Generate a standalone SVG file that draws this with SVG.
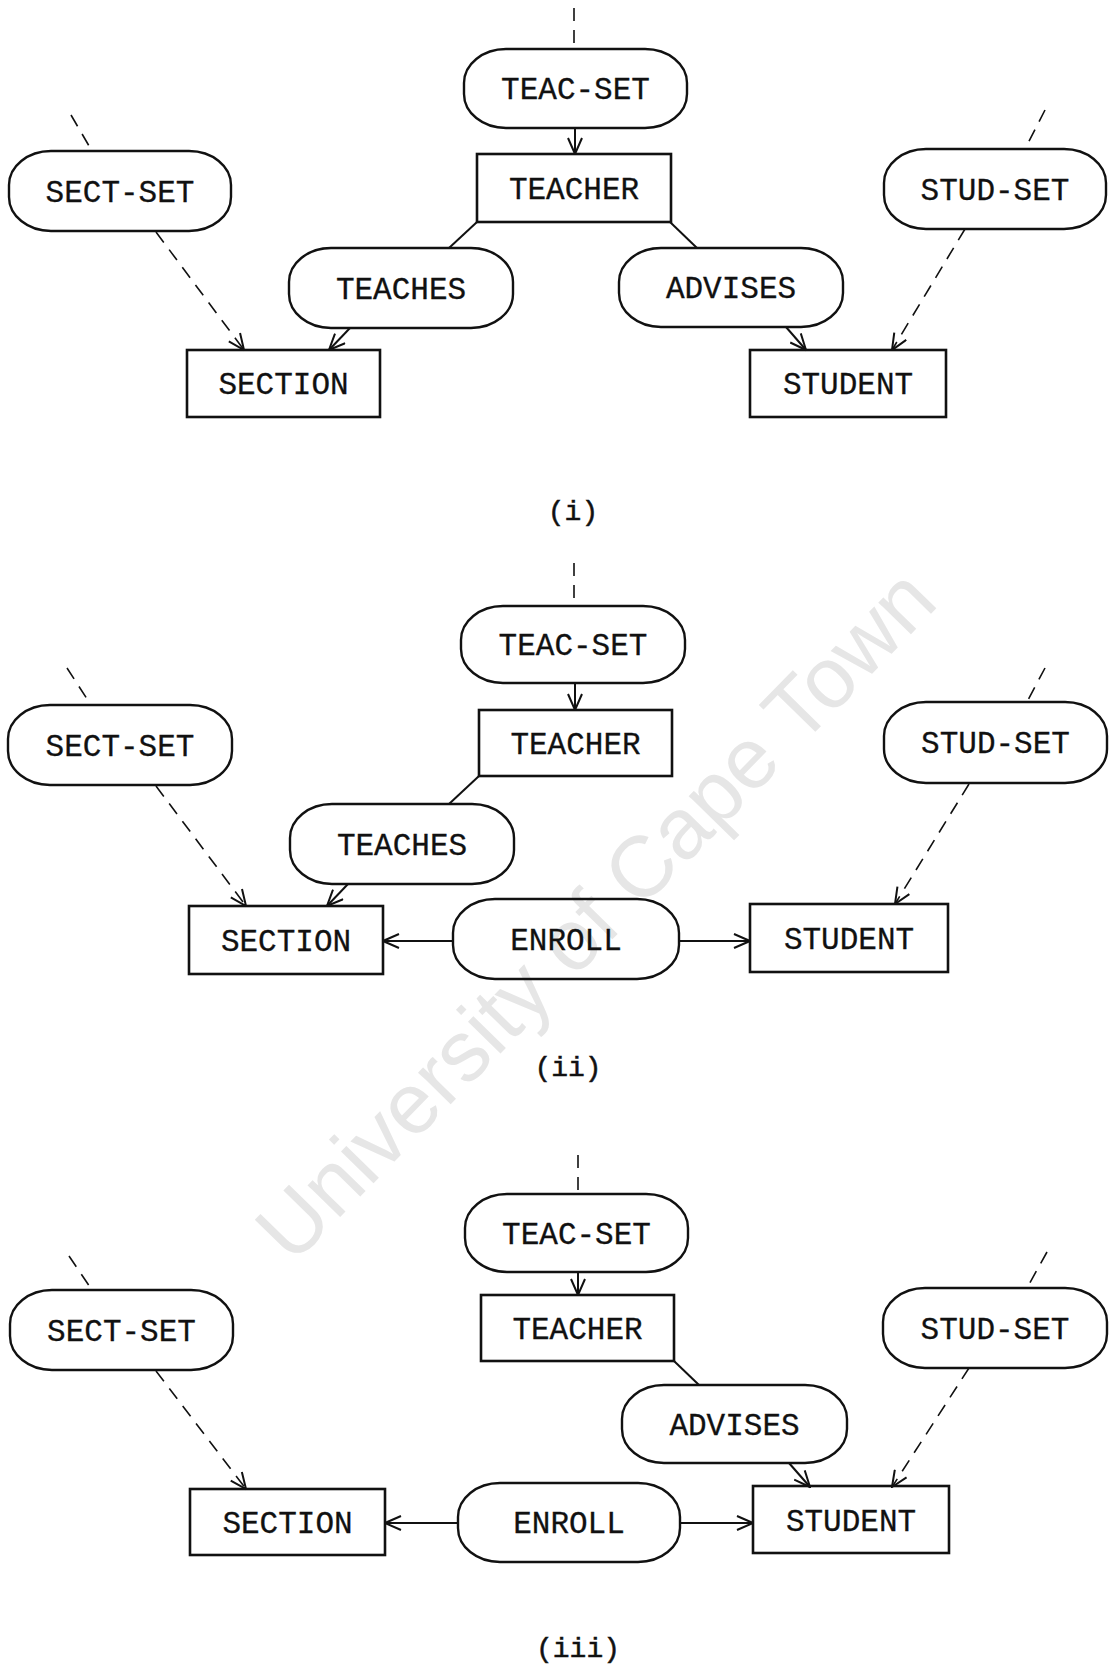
<svg xmlns="http://www.w3.org/2000/svg" width="1109" height="1666" viewBox="0 0 1109 1666">
<style>
.bg{fill:#ffffff}
.box{fill:none;stroke:#111;stroke-width:2.6}
.pill{fill:none;stroke:#111;stroke-width:2.4}
.t{font-family:"Liberation Mono","Courier New",monospace;font-size:31px;fill:#111;stroke:#111;stroke-width:0.3;text-anchor:middle}
.lbl{font-family:"Liberation Mono","Courier New",monospace;font-size:28px;fill:#111;stroke:#111;stroke-width:0.5;text-anchor:middle}
.ln{fill:none;stroke:#111;stroke-width:2}
.ds{fill:none;stroke:#111;stroke-width:1.6;stroke-dasharray:13 9}
.wm{font-family:"Liberation Sans",Arial,sans-serif;font-size:86px;fill:#e6e6e6;text-anchor:middle}
</style>
<defs>
<marker id="ah" viewBox="0 0 18 16" refX="17" refY="8" markerWidth="18" markerHeight="16" markerUnits="userSpaceOnUse" orient="auto">
<path d="M1,1 L17,8 L1,15" fill="none" stroke="#111" stroke-width="2"/>
</marker>
</defs>
<rect class="bg" x="0" y="0" width="1109" height="1666"/>
<text class="wm" transform="translate(595,914) rotate(-45.6)" dominant-baseline="central">University of Cape Town</text>

<g id="connectors">
<!-- panel i -->
<line class="ds" x1="574" y1="8" x2="574" y2="49"/>
<line class="ln" x1="575" y1="128" x2="575" y2="154" marker-end="url(#ah)"/>
<line class="ln" x1="477" y1="222" x2="449" y2="248"/>
<line class="ln" x1="670" y1="222" x2="697" y2="248"/>
<line class="ln" x1="350" y1="328" x2="329" y2="350" marker-end="url(#ah)"/>
<line class="ln" x1="786" y1="327" x2="806" y2="350" marker-end="url(#ah)"/>
<line class="ds" x1="71" y1="115" x2="92" y2="151"/>
<line class="ds" x1="156" y1="232" x2="244" y2="350" marker-end="url(#ah)"/>
<line class="ds" x1="1045" y1="110" x2="1025" y2="149"/>
<line class="ds" x1="965" y1="229" x2="892" y2="350" marker-end="url(#ah)"/>
<!-- panel ii -->
<line class="ds" x1="574" y1="563" x2="574" y2="606"/>
<line class="ln" x1="575" y1="683" x2="575" y2="710" marker-end="url(#ah)"/>
<line class="ln" x1="479" y1="776" x2="449" y2="804"/>
<line class="ln" x1="348" y1="884" x2="327" y2="906" marker-end="url(#ah)"/>
<line class="ln" x1="453" y1="941" x2="383" y2="941" marker-end="url(#ah)"/>
<line class="ln" x1="679" y1="941" x2="750" y2="941" marker-end="url(#ah)"/>
<line class="ds" x1="67" y1="668" x2="91" y2="705"/>
<line class="ds" x1="156" y1="786" x2="246" y2="906" marker-end="url(#ah)"/>
<line class="ds" x1="1045" y1="668" x2="1027" y2="702"/>
<line class="ds" x1="969" y1="784" x2="895" y2="904" marker-end="url(#ah)"/>
<!-- panel iii -->
<line class="ds" x1="578" y1="1155" x2="578" y2="1194"/>
<line class="ln" x1="578" y1="1272" x2="578" y2="1295" marker-end="url(#ah)"/>
<line class="ln" x1="674" y1="1361" x2="699" y2="1385"/>
<line class="ln" x1="789" y1="1463" x2="810" y2="1487" marker-end="url(#ah)"/>
<line class="ln" x1="458" y1="1523" x2="385" y2="1523" marker-end="url(#ah)"/>
<line class="ln" x1="680" y1="1523" x2="753" y2="1523" marker-end="url(#ah)"/>
<line class="ds" x1="69" y1="1256" x2="92" y2="1290"/>
<line class="ds" x1="156" y1="1371" x2="246" y2="1489" marker-end="url(#ah)"/>
<line class="ds" x1="1047" y1="1252" x2="1027" y2="1288"/>
<line class="ds" x1="969" y1="1368" x2="892" y2="1487" marker-end="url(#ah)"/>
</g>

<!-- panel i nodes -->
<g id="teac-set-1"><rect class="pill" x="464" y="49" width="223" height="79" rx="42" ry="34"/><text class="t" x="575.5" y="99">TEAC-SET</text></g>
<g id="teacher-1"><rect class="box" x="477" y="154" width="194" height="68"/><text class="t" x="574" y="199">TEACHER</text></g>
<g id="sect-set-1"><rect class="pill" x="9" y="151" width="222" height="80" rx="42" ry="34"/><text class="t" x="120" y="202">SECT-SET</text></g>
<g id="stud-set-1"><rect class="pill" x="884" y="149" width="222" height="80" rx="42" ry="34"/><text class="t" x="995" y="200">STUD-SET</text></g>
<g id="teaches-1"><rect class="pill" x="289" y="248" width="224" height="80" rx="42" ry="34"/><text class="t" x="401" y="299">TEACHES</text></g>
<g id="advises-1"><rect class="pill" x="619" y="248" width="224" height="79" rx="42" ry="34"/><text class="t" x="731" y="298">ADVISES</text></g>
<g id="section-1"><rect class="box" x="187" y="350" width="193" height="67"/><text class="t" x="283.5" y="394">SECTION</text></g>
<g id="student-1"><rect class="box" x="750" y="350" width="196" height="67"/><text class="t" x="848" y="394">STUDENT</text></g>
<text class="lbl" x="573" y="520">(i)</text>

<!-- panel ii nodes -->
<g id="teac-set-2"><rect class="pill" x="461" y="606" width="224" height="77" rx="42" ry="34"/><text class="t" x="573" y="655">TEAC-SET</text></g>
<g id="teacher-2"><rect class="box" x="479" y="710" width="193" height="66"/><text class="t" x="575.5" y="754">TEACHER</text></g>
<g id="sect-set-2"><rect class="pill" x="8" y="705" width="224" height="80" rx="42" ry="34"/><text class="t" x="120" y="756">SECT-SET</text></g>
<g id="stud-set-2"><rect class="pill" x="884" y="702" width="223" height="81" rx="42" ry="34"/><text class="t" x="995.5" y="753">STUD-SET</text></g>
<g id="teaches-2"><rect class="pill" x="290" y="804" width="224" height="80" rx="42" ry="34"/><text class="t" x="402" y="855">TEACHES</text></g>
<g id="section-2"><rect class="box" x="189" y="906" width="194" height="68"/><text class="t" x="286" y="951">SECTION</text></g>
<g id="enroll-2"><rect class="pill" x="453" y="899" width="226" height="80" rx="42" ry="34"/><text class="t" x="566" y="950">ENROLL</text></g>
<g id="student-2"><rect class="box" x="750" y="904" width="198" height="68"/><text class="t" x="849" y="949">STUDENT</text></g>
<text class="lbl" x="568" y="1076">(ii)</text>

<!-- panel iii nodes -->
<g id="teac-set-3"><rect class="pill" x="465" y="1194" width="223" height="78" rx="42" ry="34"/><text class="t" x="576.5" y="1244">TEAC-SET</text></g>
<g id="teacher-3"><rect class="box" x="481" y="1295" width="193" height="66"/><text class="t" x="577.5" y="1339">TEACHER</text></g>
<g id="sect-set-3"><rect class="pill" x="10" y="1290" width="223" height="80" rx="42" ry="34"/><text class="t" x="121.5" y="1341">SECT-SET</text></g>
<g id="stud-set-3"><rect class="pill" x="883" y="1288" width="224" height="80" rx="42" ry="34"/><text class="t" x="995" y="1339">STUD-SET</text></g>
<g id="advises-3"><rect class="pill" x="622" y="1385" width="225" height="78" rx="42" ry="34"/><text class="t" x="734.5" y="1435">ADVISES</text></g>
<g id="section-3"><rect class="box" x="190" y="1489" width="195" height="66"/><text class="t" x="287.5" y="1533">SECTION</text></g>
<g id="enroll-3"><rect class="pill" x="458" y="1483" width="222" height="79" rx="42" ry="34"/><text class="t" x="569" y="1533">ENROLL</text></g>
<g id="student-3"><rect class="box" x="753" y="1486" width="196" height="67"/><text class="t" x="851" y="1531">STUDENT</text></g>
<text class="lbl" x="578" y="1657">(iii)</text>
</svg>
